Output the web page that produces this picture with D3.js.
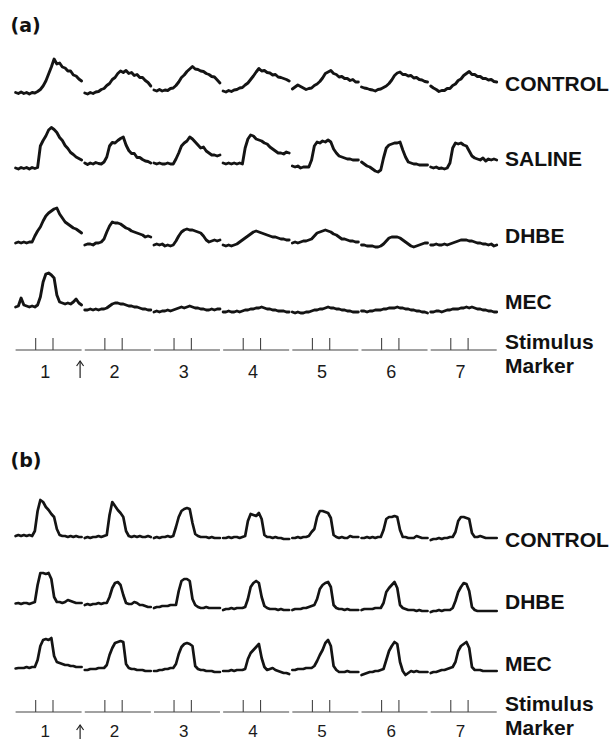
<!DOCTYPE html>
<html><head><meta charset="utf-8">
<script src="https://cdn.jsdelivr.net/npm/d3@7"></script>
<style>body{margin:0;background:#fff}</style>
</head><body>
<svg id="c" width="612" height="741"></svg>
<script>
// ---- data ----
const sweeps = ["1","2","3","4","5","6","7"];
const stimSamples = [7.3, 13.6];           // stimulus times within each sweep (sample units)
const panelLetters = ["(a)","(b)"];
const panelALabels = ["CONTROL","SALINE","DHBE","MEC"];
const panelBLabels = ["CONTROL","DHBE","MEC"];
const markerLabel = ["Stimulus","Marker"];

// each sweep: 25 samples of response amplitude
const aControl = [
 [0.5,-0.5,1,-0.5,0.5,-1,0.5,0,1.5,3.5,7,12,19,26,34,29,30,26,25,22,22,18,17,14,12],
 [0,-1,0.5,-0.5,1,1.5,3.5,4.5,7.5,9.5,13.5,15.5,19.5,22,20.5,22.5,19.5,20.5,17.5,18.5,15.5,15.5,12.5,10.5,7],
 [3,2,3.5,2,3,2.5,4.5,5,7.5,11,15.5,18,21.5,24,26.5,24,23.5,22,21.5,19.5,18.5,16.5,16,13,10],
 [2,1,2.5,1.5,3,3.5,5,5.5,8,10,13.5,17,21,24.5,22,22.5,20.5,20,18,18.5,16,15.5,14.5,13.5,12],
 [4,6,8,6.5,5,3.5,4.5,5,7.5,9,11.5,15,19.5,21,22.5,19.5,18.5,16,16.5,14.5,14.5,12.5,13.5,11,11],
 [6,5,4.5,3.5,3,2,3.5,4,5.5,7,9.5,13,17.5,20,21,18.5,18.5,17,17.5,15,15.5,13.5,13,11.5,11],
 [7,5,3.5,1.5,2.5,2.5,4.5,4.5,7.5,9,12.5,14,17.5,19.5,21.5,18.5,18.5,16.5,16.5,14.5,14.5,13,13.5,11.5,11]
];
const aSaline = [
 [0,-1,0.5,-0.5,0.5,-1,0.5,-0.5,0.5,22,27.5,32,38,40.5,38.5,35.5,30.5,27.5,22.5,19.5,15.5,13.5,11,9.5,8],
 [5,3.5,5,4,5.5,4.5,4,6,11,22,25.5,25,27.5,29.5,31,23,17.5,14.5,14.5,10.5,10.5,8.5,7,6.5,5],
 [5,4,5,4,4,5,4,4,9,15,22,25,27,31,29,26,23,20,21,17,15,13,13,12,13],
 [5,4,5,4,5,4,5,4,20,29,33,32,29,28,27,25,24,21,19,17,15,15,14,16,15],
 [2,1,2,0,1,1,1,8,22,26,25,27,26,28,26,19,15,12,11,10,9,9,8,8,8],
 [6,4,2,1,-1,-3,-4,-2,10,20,23,24,25,25,26,18,11,6,5,4,4,3,3,3,3],
 [1,0,1,-0.5,0,-1,0,5,20,25,24,25,23,22,17,12,10,9,8,10,7,9,8,9,8]
];
const aDhbe = [
 [0,1,0,1,0,1,1,7,12,16,22,27,30,32,34,35,29,25,21,19,17,15,14,12,10],
 [-2,-1,-1,-2,0,0,1,4,11,17,21,20,20,19,17,15,14,12,11,10,9,8,6,7,6],
 [-2,-1,-2,-1,-3,-2,-3,-2,2,7,11,13,14,13,13,12,11,10,7,3,1,2,3,2,3],
 [-2,-3,-2,-3,-2,-1,1,3,5,7,9,11,12,11,10,9,8,7,6,6,5,4,4,3,3],
 [0,1,0,1,2,2,3,4,7,10,11,12,13,12,11,9,8,6,4,4,3,2,2,1,1],
 [-2,-2,-3,-3,-3,-4,-4,-3,-1,2,5,6,6,6,5,3,1,-1,-3,-4,-3,-2,-1,0,0],
 [-2,-2,-1,-2,-2,-1,-2,-1,0,1,2,3,3,3,2,2,1,0,0,-1,-1,-2,-1,-3,-2]
];
const aMec = [
 [0,1,9,2,1,0,1,0,2,10,25,33,34,32,29,12,5,4,3,4,3,5,8,4,2],
 [-3,-3,-2,-3,-2,-3,-2,-2,-1,1,3,4,4,3,3,2,1,1,0,0,-1,-2,-2,-3,-3],
 [-5,-4,-5,-4,-4,-3,-4,-3,-2,-1,0,-1,0,1,0,-1,-1,-2,-2,-3,-3,-2,-3,-2,-2],
 [-5,-5,-4,-5,-5,-4,-5,-4,-3,-3,-2,-2,-1,-1,0,-1,-2,-2,-3,-3,-4,-4,-4,-5,-5],
 [-5,-6,-5,-6,-6,-5,-5,-4,-3,-3,-2,-2,-1,0,-1,-1,-2,-2,-3,-3,-4,-4,-5,-5,-5],
 [-4,-4,-5,-4,-4,-3,-3,-3,-2,-2,-1,-1,-1,0,-1,-1,-2,-2,-3,-3,-4,-4,-5,-5,-6],
 [-5,-5,-4,-4,-5,-4,-3,-3,-2,-2,-2,-1,-1,0,-1,0,-1,-2,-2,-3,-3,-4,-4,-5,-5]
];
const bControl = [
 [-1,0,-1,0,-1,0,-1,4,24,35,33,28,25,21,18,6,0,-1,-1,-2,-1,-2,-1,-2,-2],
 [-3,-2,-3,-2,-2,-1,-2,-1,0,20,33,29,25,22,18,4,-1,-2,-1,-2,-1,-2,-2,-1,-2],
 [-3,-2,-3,-2,-2,-1,-2,-1,8,18,24,26,27,26,12,1,-1,-2,-2,-2,-3,-2,-3,-3,-3],
 [-3,-3,-2,-3,-2,-2,-3,-2,-1,14,21,20,19,22,16,0,-2,-2,-3,-2,-3,-3,-4,-4,-4],
 [-3,-3,-2,-3,-2,-2,-1,3,6,18,24,24,23,22,17,0,-2,-3,-2,-3,-3,-1,-2,-2,-2],
 [-3,-3,-2,-3,-2,-3,-2,-2,5,16,18,18,19,18,5,-2,-2,-3,-3,-3,-1,-2,-3,-3,-3],
 [-5,-4,-4,-3,-4,-3,-3,-2,-2,3,14,18,18,17,16,2,-2,-2,-1,-2,-3,-3,-3,-3,-3]
];
const bDhbe = [
 [-0.5,0,-1,0,0,-1,0,1,18,30,30,29,30,24,6,1,1,0,1,3,2,1,0,0,0],
 [-2,-1,-2,-1,-1,0,-1,0,0,6,15,20,21,18,8,0,-1,-1,1,0,-2,-2,-3,-4,-4],
 [-5,-4,-4,-3,-3,-3,-2,-2,-2,12,22,24,24,22,4,-2,-4,-5,-5,-4,-5,-5,-5,-5,-5],
 [-7,-6,-6,-5,-6,-5,-5,-5,-4,4,16,20,22,20,6,-3,-5,-6,-6,-6,-7,-6,-7,-7,-7],
 [-7,-6,-6,-6,-5,-5,-4,-3,-2,4,14,18,20,21,16,-2,-5,-6,-6,-7,-6,-7,-7,-7,-7],
 [-7,-6,-6,-6,-6,-5,-5,-5,0,11,15,18,21,15,-2,-5,-6,-7,-7,-7,-8,-7,-8,-8,-8],
 [-9,-8,-8,-7,-8,-7,-7,-7,-5,2,11,16,20,19,12,-4,-7,-8,-8,-8,-8,-8,-8,-8,-8]
];
const bMec = [
 [-0.5,0,0,0,1,0,1,1,8,22,28,29,28,30,12,6,5,4,3,3,2,2,1,1,1],
 [-2,-2,-1,-1,-1,0,0,0,3,13,20,25,26,27,26,4,0,-1,-1,-2,-2,-2,-3,-3,-3],
 [-3,-3,-2,-2,-1,-1,0,0,4,14,21,24,25,24,22,2,-1,-2,-2,-3,-3,-3,-4,-4,-4],
 [-3,-3,-3,-2,-3,-2,-2,-2,-1,9,15,18,21,24,10,1,-2,-1,0,-2,-3,-4,-5,-5,-6],
 [-2,-2,-1,-1,-1,0,0,0,2,7,13,18,25,28,22,2,-2,-4,-4,-4,-3,-4,-4,-4,-4],
 [-7,-6,-5,-4,-4,-3,-3,-2,-1,8,17,22,26,24,6,-3,-7,-5,-3,-4,-3,-4,-4,-4,-4],
 [-5,-4,-4,-3,-2,-2,-1,0,1,6,17,22,24,26,20,1,-2,-2,-2,-3,-3,-3,-3,-3,-3]
];

// ---- layout ----
const svg = d3.select("#c");
svg.append("rect").attr("width",612).attr("height",741).attr("fill","#fff");
const x = d3.scaleBand().domain(sweeps).range([15.6, 496.7]).paddingInner(0.046).paddingOuter(0);
const t = d3.scaleLinear().domain([0, 24]).range([0, x.bandwidth()]);
const amp = d3.scaleLinear().domain([0, 10]).range([0, -10]);
const labelX = 505;
const sansFont = "Liberation Sans, Arial, sans-serif";

const panels = [
  {letter: panelLetters[0], letterY: 32, sw: 2.9, numSize: 18,
   rows: [{label: panelALabels[0], data: aControl, base: 93, ly: 91},
          {label: panelALabels[1], data: aSaline,  base: 168, ly: 166},
          {label: panelALabels[2], data: aDhbe,    base: 243, ly: 243},
          {label: panelALabels[3], data: aMec,     base: 307, ly: 309}],
   stimY: 350, numY: 378, arrowTop: 361, arrowBot: 378},
  {letter: panelLetters[1], letterY: 467, sw: 2.7, numSize: 17,
   rows: [{label: panelBLabels[0], data: bControl, base: 535, ly: 547},
          {label: panelBLabels[1], data: bDhbe,    base: 603, ly: 609},
          {label: panelBLabels[2], data: bMec,     base: 668, ly: 671}],
   stimY: 712, numY: 737, arrowTop: 725, arrowBot: 739}
];

panels.forEach(p => {
  svg.append("text").attr("x", 10.5).attr("y", p.letterY)
    .attr("font-family", "DejaVu Sans").attr("font-weight", "bold")
    .attr("font-size", 19).attr("fill", "#111").text(p.letter);

  p.rows.forEach(r => {
    const g = svg.append("g");
    sweeps.forEach((s, j) => {
      const line = d3.line().x((v, i) => x(s) + t(i)).y(v => r.base + amp(v));
      g.append("path").attr("d", line(r.data[j]))
        .attr("fill", "none").attr("stroke", "#141414").attr("stroke-width", p.sw)
        .attr("stroke-linejoin", "round").attr("stroke-linecap", "round");
    });
    svg.append("text").attr("x", labelX).attr("y", r.ly)
      .attr("font-family", sansFont).attr("font-weight", "bold")
      .attr("font-size", 21).attr("fill", "#111").text(r.label);
  });

  // stimulus marker
  const sg = svg.append("g").attr("stroke", "#444").attr("stroke-width", 1.1);
  sweeps.forEach(s => {
    sg.append("line").attr("x1", x(s)).attr("x2", x(s) + x.bandwidth())
      .attr("y1", p.stimY).attr("y2", p.stimY);
    stimSamples.forEach(ss => {
      sg.append("line").attr("x1", x(s) + t(ss)).attr("x2", x(s) + t(ss))
        .attr("y1", p.stimY - 12).attr("y2", p.stimY);
    });
    svg.append("text").attr("x", x(s) + t(d3.mean(stimSamples)) + 1).attr("y", p.numY)
      .attr("text-anchor", "middle")
      .attr("font-family", sansFont)
      .attr("font-size", p.numSize).attr("fill", "#1a1a1a").text(s);
  });
  svg.append("text").attr("x", labelX).attr("y", p.stimY - 1)
    .attr("font-family", sansFont).attr("font-weight", "bold")
    .attr("font-size", 21).attr("fill", "#111").text(markerLabel[0]);
  svg.append("text").attr("x", labelX).attr("y", p.stimY + 23)
    .attr("font-family", sansFont).attr("font-weight", "bold")
    .attr("font-size", 21).attr("fill", "#111").text(markerLabel[1]);

  // arrow (drug administration after sweep 1)
  const ax = x(sweeps[0]) + x.bandwidth() - 1.5;
  const ag = svg.append("g").attr("stroke", "#222").attr("stroke-width", 1.2).attr("fill", "none");
  ag.append("line").attr("x1", ax).attr("x2", ax).attr("y1", p.arrowTop).attr("y2", p.arrowBot);
  ag.append("path").attr("d", `M${ax-3.5},${p.arrowTop+5}L${ax},${p.arrowTop}L${ax+3.5},${p.arrowTop+5}`);
});
</script>
</body></html>
